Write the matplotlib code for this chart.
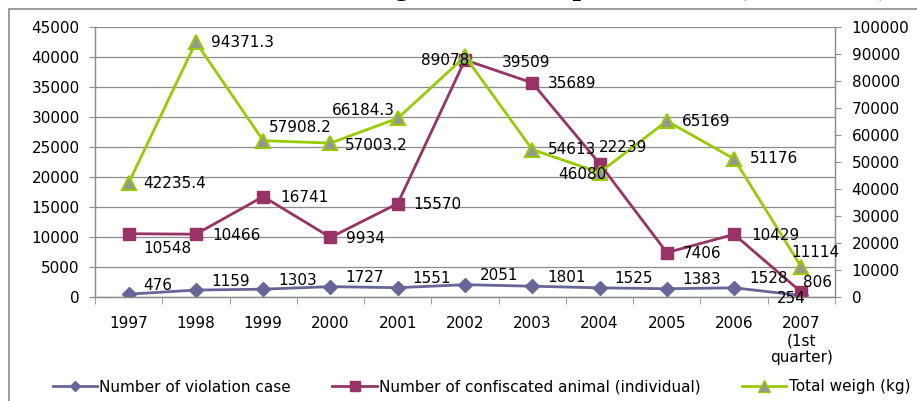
import matplotlib
matplotlib.use("Agg")
import matplotlib.pyplot as plt
from matplotlib.patches import Rectangle
from matplotlib.lines import Line2D

years = ["1997", "1998", "1999", "2000", "2001", "2002", "2003", "2004", "2005", "2006", "2007\n(1st\nquarter)"]
violation_cases = [476, 1159, 1303, 1727, 1551, 2051, 1801, 1525, 1383, 1528, 254]
confiscated_animals = [10548, 10466, 16741, 9934, 15570, 39509, 35689, 22239, 7406, 10429, 806]
total_weight = [42235.4, 94371.3, 57908.2, 57003.2, 66184.3, 89078, 54613, 46080, 65169, 51176, 11114]
weight_labels = ["42235.4", "94371.3", "57908.2", "57003.2", "66184.3", "89078", "54613", "46080", "65169", "51176", "11114"]

series_names = ["Number of violation case", "Number of confiscated animal (individual)", "Total weigh (kg)"]
title_text = "Wildlife trading cases in the period from (1997-2007)"

# label offsets in pixels (dx to text left edge, dy to text centre)
off_v = [(15, 9)] * 10 + [(-24, -3)]
off_c = [(15, -15), (16, -1), (17, -1), (16, -1), (16, -1), (37, -3), (16, -1), (-1, 16), (16, -1), (17, -1), (2, 10)]
off_w = [(15, -1), (15, 0), (6, 13), (14, -2), (-66, 8), (-44, -4), (16, 0), (-41, -2), (15, 0), (16, 0), (-10, 14)]

C_V = "#666699"
C_C = "#993366"
C_W = "#99CC00"
C_TRI = "#969696"
GRID = "#8C8C8C"

W, H = 917, 401
fig = plt.figure(figsize=(W / 100, H / 100), dpi=100)
plt.rcParams["font.family"] = ["DejaVu Sans"]
FS = 11.0

# outer chart frame
fig.patches.append(Rectangle((9 / W, -0.05), 1.2, 1 - 9 / H + 0.05, transform=fig.transFigure,
                             fill=False, edgecolor="#8C8C8C", linewidth=1.2))
# title (only its descenders show at the top edge, as in the reference)
fig.text(200 / W, 1 + 6 / H, title_text, ha="left", va="baseline",
         family="Liberation Serif", fontweight="bold", fontsize=22)

ax = fig.add_axes([95 / W, 1 - 297 / H, 740 / W, 270 / H])
ax2 = ax.twinx()
x = list(range(len(years)))

ax.set_xlim(-0.5, len(years) - 0.5)
ax.set_ylim(0, 45000)
ax.set_yticks(range(0, 45001, 5000))
ax2.set_ylim(0, 100000)
ax2.set_yticks(range(0, 100001, 10000))

ax.yaxis.grid(True, color=GRID, linewidth=0.9)
ax.set_axisbelow(True)

for s in ["top"]:
    ax.spines[s].set_visible(False)
    ax2.spines[s].set_visible(False)
for s in ["left", "bottom", "right"]:
    ax.spines[s].set_color(GRID)
    ax2.spines[s].set_color(GRID)
    ax.spines[s].set_linewidth(0.9)
    ax2.spines[s].set_linewidth(0.9)

ax.set_xticks(x)
ax.set_xticklabels(years, fontsize=FS, linespacing=1.15)
ax.set_xticks([i - 0.5 for i in range(len(years) + 1)], minor=True)
ax.tick_params(axis="x", which="major", length=0, pad=14)
ax.tick_params(axis="x", which="minor", length=5, color=GRID, direction="out")
ax.tick_params(axis="y", length=4, color=GRID, pad=7, labelsize=FS)
ax2.tick_params(axis="y", length=4, color=GRID, pad=8, labelsize=FS)

ax.plot(x, violation_cases, color=C_V, linewidth=2, marker="D", markersize=7.5,
        markerfacecolor=C_V, markeredgecolor=C_V, zorder=3)
ax.plot(x, confiscated_animals, color=C_C, linewidth=2, marker="s", markersize=9,
        markerfacecolor=C_C, markeredgecolor=C_C, zorder=4)
ax2.plot(x, total_weight, color=C_W, linewidth=2, marker="^", markersize=10,
         markerfacecolor=C_TRI, markeredgecolor=C_W, markeredgewidth=1.5, zorder=3)

for i in x:
    ax2.annotate(str(violation_cases[i]), xy=(i, violation_cases[i]), xycoords=ax.transData,
                 xytext=off_v[i], textcoords="offset pixels", ha="left", va="center",
                 fontsize=FS, zorder=10, annotation_clip=False)
    ax2.annotate(str(confiscated_animals[i]), xy=(i, confiscated_animals[i]), xycoords=ax.transData,
                 xytext=off_c[i], textcoords="offset pixels", ha="left", va="center",
                 fontsize=FS, zorder=10, annotation_clip=False)
    ax2.annotate(weight_labels[i], xy=(i, total_weight[i]), xycoords=ax2.transData,
                 xytext=off_w[i], textcoords="offset pixels", ha="left", va="center",
                 fontsize=FS, zorder=10, annotation_clip=False)

handles = [
    Line2D([], [], color=C_V, linewidth=2, marker="D", markersize=5.5, markerfacecolor=C_V),
    Line2D([], [], color=C_C, linewidth=2, marker="s", markersize=7, markerfacecolor=C_C),
    Line2D([], [], color=C_W, linewidth=2, marker="^", markersize=8, markerfacecolor=C_TRI,
           markeredgecolor=C_W),
]
fig.legend(handles, series_names, loc="center", bbox_to_anchor=(0.525, 1 - 387 / H),
           ncol=3, frameon=False, fontsize=FS, handlelength=2.9, handletextpad=0.15,
           columnspacing=2.7, borderpad=0)

fig.savefig("out.png", dpi=100)
